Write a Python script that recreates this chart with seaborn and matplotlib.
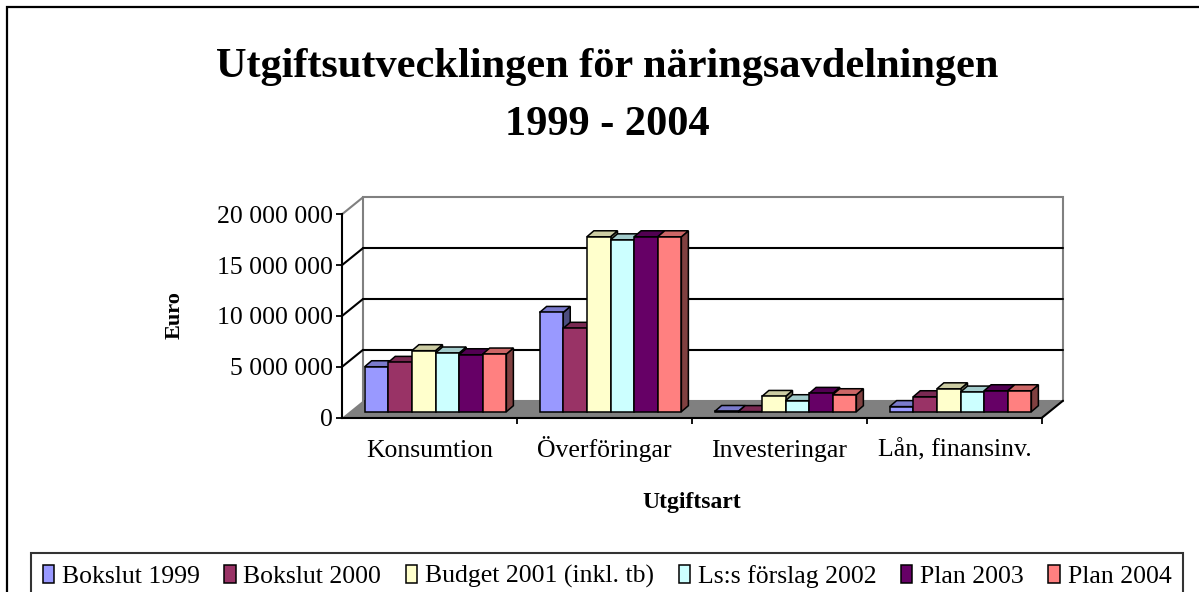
"""Excel-style 3D column chart: Utgiftsutvecklingen för näringsavdelningen 1999 - 2004."""

import matplotlib

matplotlib.use("Agg")
import matplotlib.pyplot as plt
import numpy as np
import pandas as pd
import seaborn as sns
from matplotlib.colors import to_rgb
from matplotlib.patches import Patch, Polygon, Rectangle
from matplotlib.ticker import FixedLocator, FuncFormatter

# --- data (euro) ---------------------------------------------------------
CATEGORIES = ["Konsumtion", "Överföringar", "Investeringar", "Lån, finansinv."]
SERIES = [
    "Bokslut 1999",
    "Bokslut 2000",
    "Budget 2001 (inkl. tb)",
    "Ls:s förslag 2002",
    "Plan 2003",
    "Plan 2004",
]
BOKSLUT_1999 = [4_420_000, 9_760_000, 20_000, 500_000]
BOKSLUT_2000 = [4_850_000, 8_200_000, 10_000, 1_470_000]
BUDGET_2001 = [6_000_000, 17_200_000, 1_500_000, 2_250_000]
LS_FORSLAG_2002 = [5_770_000, 16_900_000, 1_080_000, 1_930_000]
PLAN_2003 = [5_600_000, 17_200_000, 1_800_000, 2_060_000]
PLAN_2004 = [5_670_000, 17_200_000, 1_670_000, 2_060_000]
Y_TICKS = [0, 5_000_000, 10_000_000, 15_000_000, 20_000_000]

COLORS = ["#9999FF", "#993366", "#FFFFCC", "#CCFFFF", "#660066", "#FF8080"]
GREY = "#808080"

# --- geometry in pixels ----------------------------------------------------
W, H = 1199, 592
FRONT_LEFT, FRONT_BASE, FRONT_W, FRONT_H = 342, 417.7, 700, 203.4
BAR_SHIFT = (6, 6)      # bars sit a little behind the front plane
WALL_SHIFT = (21, 17)   # back wall
BAR_DEPTH = (7, 6)      # depth of each column
PX_X = FRONT_W / len(CATEGORIES)
PX_Y = FRONT_H / Y_TICKS[-1]


def off(dx, dy):
    return dx / PX_X, dy / PX_Y


def shade(color, factor):
    return tuple(np.clip(np.array(to_rgb(color)) * factor, 0, 1))


sns.set_theme(style="white")
plt.rcParams["font.family"] = ["Liberation Serif", "DejaVu Serif"]
plt.rcParams.update({"text.color": "black", "axes.labelcolor": "black"})

values = [BOKSLUT_1999, BOKSLUT_2000, BUDGET_2001, LS_FORSLAG_2002, PLAN_2003, PLAN_2004]
df = pd.DataFrame(
    [(c, s, v[i]) for s, v in zip(SERIES, values) for i, c in enumerate(CATEGORIES)],
    columns=["utgiftsart", "serie", "euro"],
)

fig = plt.figure(figsize=(W / 100, H / 100), dpi=100)
ax = fig.add_axes([FRONT_LEFT / W, 1 - FRONT_BASE / H, FRONT_W / W, FRONT_H / H])
ax.set_facecolor("none")

sns.barplot(
    data=df, x="utgiftsart", y="euro", hue="serie",
    order=CATEGORIES, hue_order=SERIES, palette=COLORS,
    width=0.81, saturation=1, errorbar=None, legend=False,
    edgecolor="black", linewidth=1.1, ax=ax,
)
bars = sorted([p for p in ax.patches if isinstance(p, Rectangle)], key=lambda p: p.get_x())
ax.set_xlim(-0.5, len(CATEGORIES) - 0.5)
ax.set_ylim(0, Y_TICKS[-1])

x0, x1 = -0.5, len(CATEGORIES) - 0.5
wx, wy = off(*WALL_SHIFT)
bx, by = off(*BAR_SHIFT)
dx, dy = off(*BAR_DEPTH)

# back wall, gridlines and side wall
ax.add_patch(Rectangle((x0 + wx, wy), x1 - x0, Y_TICKS[-1], facecolor="white",
                       edgecolor=GREY, linewidth=1.5, zorder=1, clip_on=False))
for v in Y_TICKS[1:]:
    col = GREY if v == Y_TICKS[-1] else "black"
    if v != Y_TICKS[-1]:
        ax.plot([x0 + wx, x1 + wx], [v + wy, v + wy], color="black", lw=1.5, zorder=1.2, clip_on=False)
    ax.plot([x0, x0 + wx], [v, v + wy], color=col, lw=1.5, zorder=1.2, clip_on=False)

# floor
ax.add_patch(Polygon([(x0, 0), (x1, 0), (x1 + wx, wy), (x0 + wx, wy)], closed=True,
                     facecolor=GREY, edgecolor="none", zorder=1.5, clip_on=False))
ax.plot([x1, x1 + wx], [0, wy], color="black", lw=1.5, zorder=1.6, clip_on=False)

# columns: move behind the front plane and add top/side faces
for k, p in enumerate(bars):
    color = p.get_facecolor()
    left, w, h = p.get_x() + bx, p.get_width(), p.get_height()
    p.set_x(left)
    p.set_y(by)
    p.set_zorder(11 + 3 * k)
    p.set_clip_on(False)
    top = [(left, by + h), (left + w, by + h), (left + w + dx, by + h + dy), (left + dx, by + h + dy)]
    side = [(left + w, by), (left + w + dx, by + dy), (left + w + dx, by + h + dy), (left + w, by + h)]
    ax.add_patch(Polygon(side, closed=True, facecolor=shade(color, 0.5), edgecolor="black",
                         linewidth=1.1, zorder=10 + 3 * k, clip_on=False))
    ax.add_patch(Polygon(top, closed=True, facecolor=shade(color, 0.8), edgecolor="black",
                         linewidth=1.1, zorder=10 + 3 * k, clip_on=False))

# front axes
for side_name in ["top", "right"]:
    ax.spines[side_name].set_visible(False)
for side_name in ["left", "bottom"]:
    ax.spines[side_name].set_color("black")
    ax.spines[side_name].set_linewidth(1.5)
ax.yaxis.set_major_locator(FixedLocator(Y_TICKS))
ax.yaxis.set_major_formatter(FuncFormatter(lambda v, _: f"{v:,.0f}".replace(",", " ")))
ax.tick_params(axis="y", which="major", left=True, direction="out", length=4.3, width=1.3,
               pad=2, labelsize=18.5, colors="black")
ax.set_xticks(range(len(CATEGORIES)))
ax.set_xticklabels(CATEGORIES)
ax.xaxis.set_minor_locator(FixedLocator([i + 0.5 for i in range(len(CATEGORIES))]))
ax.tick_params(axis="x", which="major", bottom=False, length=0, pad=28, labelsize=18.5, colors="black")
ax.tick_params(axis="x", which="minor", bottom=True, direction="out", length=4.3, width=1.3, color="black")
for lab in ax.get_xticklabels():
    lab.set_verticalalignment("baseline")

ax.set_xlabel("Utgiftsart", fontsize=17, fontweight="bold", color="black")
ax.xaxis.set_label_coords(0.5, (FRONT_BASE - 492) / FRONT_H)
ax.set_ylabel("Euro", fontsize=16, fontweight="bold", color="black")
ax.yaxis.set_label_coords((185 - FRONT_LEFT) / FRONT_W, (FRONT_BASE - 315) / FRONT_H)

# title
fig.text(607 / W, 1 - 77.3 / H, "Utgiftsutvecklingen för näringsavdelningen",
         ha="center", va="baseline", fontsize=30.5, fontweight="bold")
fig.text(607 / W, 1 - 135 / H, "1999 - 2004",
         ha="center", va="baseline", fontsize=30.5, fontweight="bold")

# legend
handles = [Patch(facecolor=c, edgecolor="black", linewidth=1.1) for c in COLORS]
leg = fig.legend(
    handles, SERIES, loc="upper left",
    bbox_to_anchor=(31 / W, 1 - 553 / H, (1183 - 31) / W, 0), mode="expand",
    ncol=len(SERIES), frameon=True, fancybox=False, edgecolor="black", fontsize=18.5,
    handlelength=0.45, handleheight=0.75, handletextpad=0.3, columnspacing=0.3,
    borderpad=0.45, borderaxespad=0,
)
leg.get_frame().set_linewidth(1.5)

# outer chart frame (cut by the picture edge on the right and bottom)
fig.add_artist(Rectangle((7 / W, -0.05), 1.1, 1.05 - 7 / H, transform=fig.transFigure,
                         fill=False, edgecolor="black", linewidth=1.6))

fig.savefig("out.png", dpi=100, facecolor="white")
